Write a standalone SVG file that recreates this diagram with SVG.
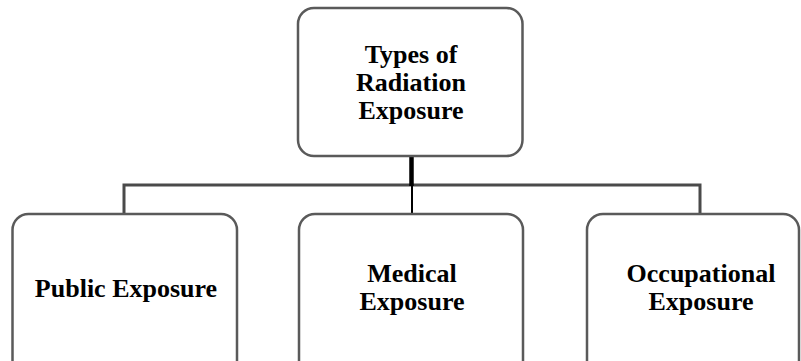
<svg xmlns="http://www.w3.org/2000/svg" width="801" height="361" viewBox="0 0 801 361">
<style>
.box{fill:#fff;stroke:#5a5a5a;stroke-width:2.5}
.t{font-family:"Liberation Serif","Times New Roman",serif;font-weight:bold;font-size:26px;fill:#000;text-anchor:middle}
.c{fill:none;stroke:#4a4a4a;stroke-width:3}
</style>
<rect width="801" height="361" fill="#fff"/>
<g id="connectors">
<path class="c" d="M124,214 V185 H700 V214"/>
<line x1="411.5" y1="156" x2="411.5" y2="186" stroke="#000" stroke-width="4.5"/>
<line x1="412" y1="186" x2="412" y2="214" stroke="#000" stroke-width="2"/>
</g>
<g id="root">
<rect class="box" x="298" y="8" width="224.5" height="148" rx="16"/>
<text class="t" x="411" y="63">Types of</text>
<text class="t" x="411" y="91">Radiation</text>
<text class="t" x="411" y="119">Exposure</text>
</g>
<g id="public">
<rect class="box" x="12.5" y="214" width="224.5" height="170" rx="16"/>
<text class="t" x="126" y="297">Public Exposure</text>
</g>
<g id="medical">
<rect class="box" x="299" y="214" width="224" height="170" rx="16"/>
<text class="t" x="412" y="282">Medical</text>
<text class="t" x="412" y="310">Exposure</text>
</g>
<g id="occupational">
<rect class="box" x="587" y="214" width="212" height="170" rx="16"/>
<text class="t" x="701" y="282">Occupational</text>
<text class="t" x="701" y="310">Exposure</text>
</g>
</svg>
